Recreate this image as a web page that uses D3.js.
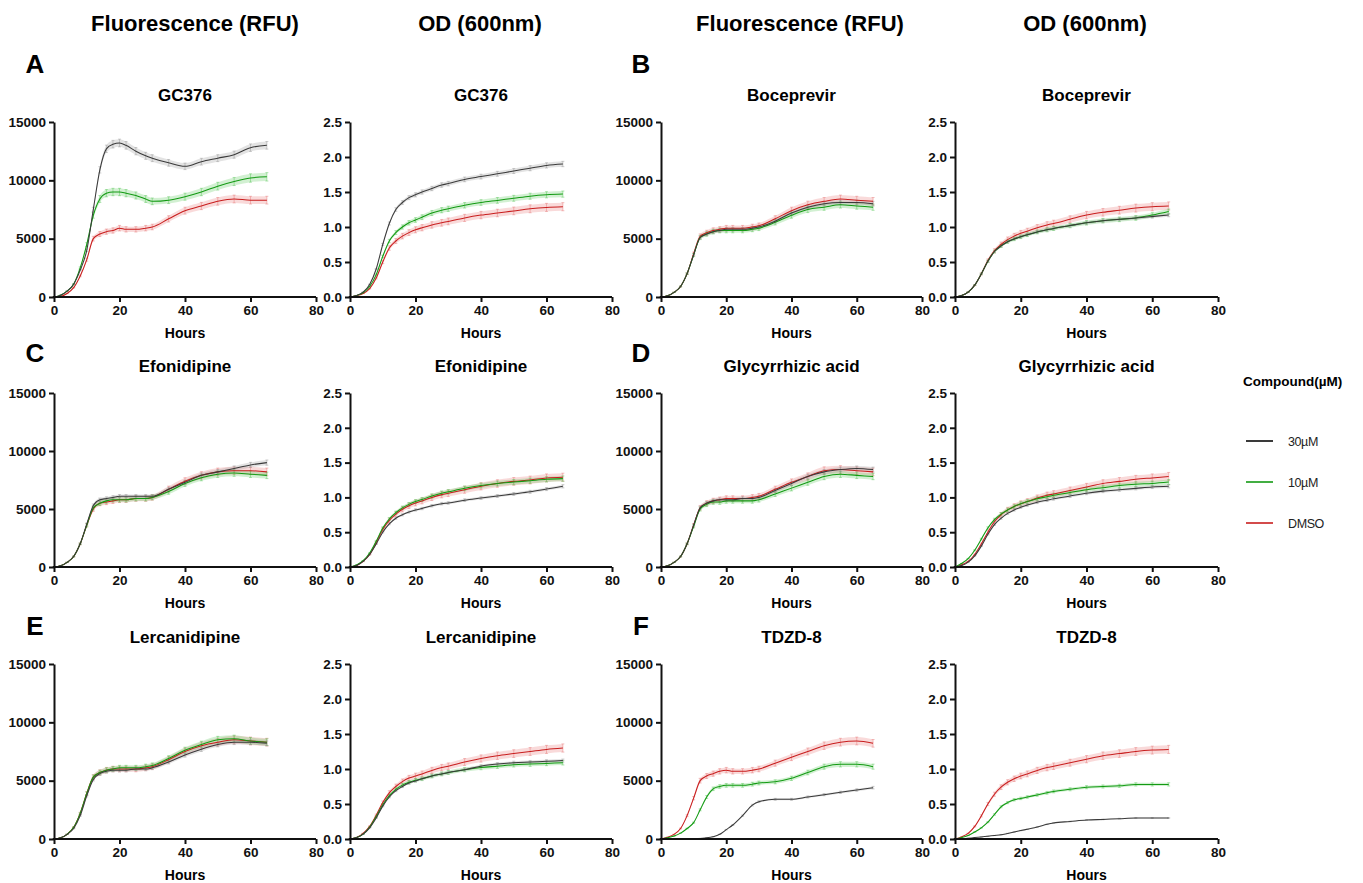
<!DOCTYPE html>
<html><head><meta charset="utf-8">
<script src="https://cdn.jsdelivr.net/npm/d3@7"></script>
<style>body{margin:0;background:#fff}svg{display:block}text{font-family:"Liberation Sans",Arial,Helvetica,sans-serif}</style>
</head><body><svg id="c" width="1363" height="883"></svg>
<script>
// ---------- data ----------
const hours = [0,2,4,6,8,10,12,14,16,18,20,22,25,28,30,35,40,45,50,55,60,65];
const seriesLabels = ["30µM","10µM","DMSO"];
const columnHeaders = ["Fluorescence (RFU)","OD (600nm)","Fluorescence (RFU)","OD (600nm)"];
const panelLetters = ["A","B","C","D","E","F"];
const compounds = ["GC376","Boceprevir","Efonidipine","Glycyrrhizic acid","Lercanidipine","TDZD-8"];
const fluorTicks = [0,5000,10000,15000];
const odTicks = [0,0.5,1.0,1.5,2.0,2.5];
const hourTicks = [0,20,40,60,80];
// relative spread of replicates (black, green, red)
const cvFluor = [0.025,0.035,0.04];
const cvOD = [0.02,0.03,0.045];

// A GC376
const gc376F30 = [0,150,500,1100,2300,4000,7500,10900,12700,13100,13200,13000,12500,12100,11900,11500,11200,11600,11900,12200,12800,13000];
const gc376F10 = [0,150,500,1100,2500,4500,7000,8400,8900,9000,9000,8900,8700,8400,8200,8300,8600,9000,9500,9900,10200,10300];
const gc376FD  = [0,50,300,800,1800,3200,5000,5400,5600,5700,5900,5800,5800,5900,6000,6700,7400,7800,8200,8400,8300,8300];
const gc376O30 = [0,0.02,0.07,0.18,0.4,0.75,1.05,1.25,1.35,1.42,1.46,1.5,1.55,1.6,1.62,1.68,1.72,1.76,1.8,1.84,1.88,1.9];
const gc376O10 = [0,0.02,0.06,0.15,0.32,0.58,0.8,0.92,1.0,1.06,1.1,1.14,1.2,1.24,1.26,1.31,1.35,1.38,1.41,1.44,1.46,1.47];
const gc376OD  = [0,0.02,0.05,0.12,0.27,0.5,0.7,0.8,0.87,0.92,0.96,0.99,1.03,1.06,1.08,1.13,1.17,1.2,1.23,1.26,1.28,1.29];
// B Boceprevir
const bocF30 = [0,100,400,900,2000,3600,5100,5400,5600,5700,5800,5800,5800,5900,6000,6500,7200,7700,8000,8100,8100,8000];
const bocF10 = [0,100,400,900,2000,3600,5100,5400,5600,5700,5700,5700,5700,5800,5900,6400,7000,7500,7700,7900,7800,7700];
const bocFD  = [0,100,400,900,2000,3700,5200,5500,5700,5800,5900,5900,5900,6000,6100,6700,7400,7900,8200,8400,8300,8200];
const bocO30 = [0,0.02,0.07,0.17,0.33,0.51,0.65,0.73,0.79,0.83,0.86,0.89,0.93,0.96,0.98,1.02,1.06,1.09,1.11,1.13,1.15,1.17];
const bocO10 = [0,0.02,0.07,0.17,0.33,0.51,0.65,0.73,0.79,0.83,0.86,0.89,0.93,0.96,0.98,1.02,1.06,1.09,1.11,1.13,1.17,1.22];
const bocOD  = [0,0.02,0.07,0.17,0.33,0.52,0.66,0.75,0.82,0.87,0.91,0.94,0.99,1.03,1.05,1.11,1.17,1.21,1.24,1.27,1.29,1.3];
// C Efonidipine
const efoF30 = [0,100,400,900,2000,3700,5300,5800,5900,6000,6100,6100,6100,6100,6100,6700,7300,7900,8200,8500,8800,9000];
const efoF10 = [0,100,400,900,2000,3600,5100,5500,5700,5800,5800,5800,5900,5900,6000,6500,7200,7700,8000,8100,8000,7900];
const efoFD  = [0,100,400,900,2000,3600,5000,5500,5600,5700,5800,5800,5900,5900,6000,6700,7400,7900,8200,8300,8300,8200];
const efoO30 = [0,0.02,0.08,0.18,0.33,0.5,0.62,0.7,0.75,0.79,0.82,0.84,0.88,0.91,0.92,0.96,0.99,1.02,1.05,1.08,1.12,1.16];
const efoO10 = [0,0.03,0.09,0.2,0.37,0.56,0.69,0.78,0.85,0.9,0.94,0.97,1.02,1.06,1.08,1.13,1.17,1.2,1.22,1.24,1.26,1.27];
const efoOD  = [0,0.02,0.08,0.18,0.35,0.54,0.67,0.76,0.83,0.88,0.92,0.95,1.0,1.04,1.06,1.11,1.16,1.2,1.23,1.25,1.28,1.29];
// D Glycyrrhizic acid
const glyF30 = [0,100,400,900,2000,3600,5100,5500,5700,5800,5800,5800,5900,5900,6000,6600,7200,7800,8200,8400,8500,8400];
const glyF10 = [0,100,400,900,2000,3500,5000,5400,5600,5600,5700,5700,5700,5700,5800,6300,6800,7300,7800,8000,7900,7800];
const glyFD  = [0,100,400,900,2000,3600,5100,5500,5700,5800,5900,5900,5900,6000,6100,6700,7300,7800,8300,8400,8300,8200];
const glyO30 = [0,0.02,0.07,0.16,0.3,0.47,0.61,0.7,0.77,0.82,0.86,0.89,0.93,0.96,0.98,1.02,1.06,1.09,1.11,1.13,1.15,1.16];
const glyO10 = [0,0.05,0.12,0.24,0.4,0.56,0.68,0.76,0.82,0.87,0.91,0.94,0.98,1.01,1.03,1.07,1.11,1.14,1.17,1.19,1.2,1.22];
const glyOD  = [0,0.03,0.08,0.18,0.33,0.5,0.65,0.75,0.82,0.87,0.91,0.94,0.99,1.03,1.05,1.1,1.15,1.2,1.23,1.26,1.28,1.3];
// E Lercanidipine
const lerF30 = [0,100,400,900,2000,3700,5100,5600,5800,5900,5900,5900,6000,6000,6100,6600,7200,7700,8100,8300,8300,8200];
const lerF10 = [0,100,400,1000,2200,3900,5300,5700,5900,6000,6100,6100,6100,6200,6300,6900,7600,8100,8500,8600,8400,8300];
const lerFD  = [0,100,400,1000,2200,3900,5300,5700,5900,6000,6000,6000,6000,6100,6200,6800,7500,8000,8300,8500,8400,8300];
const lerO30 = [0,0.02,0.07,0.16,0.3,0.47,0.6,0.69,0.75,0.8,0.83,0.86,0.9,0.93,0.95,0.99,1.04,1.07,1.09,1.1,1.11,1.12];
const lerO10 = [0,0.02,0.07,0.17,0.32,0.49,0.62,0.71,0.77,0.81,0.84,0.86,0.9,0.93,0.95,0.99,1.02,1.04,1.06,1.07,1.08,1.09];
const lerOD  = [0,0.02,0.08,0.18,0.34,0.52,0.66,0.75,0.82,0.87,0.9,0.93,0.98,1.02,1.04,1.1,1.15,1.19,1.22,1.25,1.28,1.3];
// F TDZD-8
const tdzF30 = [0,50,0,0,0,0,50,100,200,400,800,1200,2000,2900,3200,3400,3400,3600,3800,4000,4200,4400];
const tdzF10 = [0,100,250,500,900,1400,2500,3600,4300,4500,4600,4600,4600,4700,4800,4900,5200,5700,6200,6400,6400,6200];
const tdzFD  = [0,150,400,900,2000,3500,5000,5400,5600,5800,5900,5800,5800,5900,6000,6500,7000,7500,8000,8300,8400,8200];
const tdzO30 = [0,0,0.01,0.02,0.03,0.04,0.05,0.06,0.08,0.1,0.12,0.14,0.17,0.21,0.23,0.25,0.27,0.28,0.29,0.3,0.3,0.3];
const tdzO10 = [0,0.02,0.05,0.1,0.16,0.24,0.35,0.46,0.52,0.56,0.58,0.6,0.63,0.66,0.68,0.71,0.74,0.75,0.76,0.78,0.78,0.78];
const tdzOD  = [0,0.03,0.08,0.18,0.33,0.5,0.64,0.74,0.81,0.86,0.9,0.93,0.98,1.02,1.04,1.09,1.14,1.19,1.22,1.25,1.27,1.28];

const fluorSets = [[gc376F30,gc376F10,gc376FD],[bocF30,bocF10,bocFD],[efoF30,efoF10,efoFD],[glyF30,glyF10,glyFD],[lerF30,lerF10,lerFD],[tdzF30,tdzF10,tdzFD]];
const odSets = [[gc376O30,gc376O10,gc376OD],[bocO30,bocO10,bocOD],[efoO30,efoO10,efoOD],[glyO30,glyO10,glyOD],[lerO30,lerO10,lerOD],[tdzO30,tdzO10,tdzOD]];

// ---------- layout & style ----------
const lineColors = ["#3a3a3a","#139a13","#c81e1e"];
const bandColors = ["#9a9a9a","#5cc85c","#e87a7a"];
const colX = [[54,316],[350,612],[661,922],[955,1218]];
const rowY = [[122,297],[393,567],[664,839]];
const letterBase = [73,362,635];
const headerX = [195,480,800,1085];

const svg = d3.select("#c");
svg.selectAll("text.hdr").data(columnHeaders).join("text").attr("class","hdr")
  .attr("x",(d,i)=>headerX[i]).attr("y",31).attr("text-anchor","middle")
  .attr("font-size",22).attr("font-weight","bold").attr("fill","#000").text(d=>d);

function drawPanel(col,row,title,sets,isOD,cv){
  const [x0,x1]=colX[col],[yt,yb]=rowY[row];
  const x=d3.scaleLinear([0,80],[x0,x1]);
  const y=d3.scaleLinear(isOD?[0,2.5]:[0,15000],[yb,yt]);
  const g=svg.append("g");
  const order=[2,1,0];
  order.forEach(s=>{
    const vals=sets[s];
    const area=d3.area().x((d,i)=>x(hours[i])).y0(d=>y(d*(1-cv[s]))).y1(d=>y(d*(1+cv[s]))).curve(d3.curveMonotoneX);
    g.append("path").datum(vals).attr("d",area).attr("fill",bandColors[s]).attr("fill-opacity",0.28);
    g.append("g").selectAll("path").data(vals).join("path")
      .attr("d",(d,i)=>{const cx=x(hours[i]),a=y(d*(1+cv[s])),b=y(d*(1-cv[s]));return `M${cx},${a}V${b}M${cx-1.5},${a}H${cx+1.5}M${cx-1.5},${b}H${cx+1.5}`;})
      .attr("stroke",bandColors[s]).attr("stroke-opacity",0.6).attr("stroke-width",0.8).attr("fill","none");
  });
  order.forEach(s=>{
    const line=d3.line().x((d,i)=>x(hours[i])).y(d=>y(d)).curve(d3.curveMonotoneX);
    g.append("path").datum(sets[s]).attr("d",line).attr("fill","none").attr("stroke",lineColors[s]).attr("stroke-width",1.05);
  });
  const ax=g.append("g").attr("transform",`translate(0,${yb})`)
    .call(d3.axisBottom(x).tickValues(hourTicks).tickSize(5).tickSizeOuter(0).tickPadding(3));
  const ay=g.append("g").attr("transform",`translate(${x0},0)`)
    .call(d3.axisLeft(y).tickValues(isOD?odTicks:fluorTicks).tickSize(5).tickSizeOuter(0).tickPadding(3)
      .tickFormat(isOD?d3.format(".1f"):d3.format("d")));
  [ax,ay].forEach(a=>{
    a.select(".domain").attr("stroke","#111").attr("stroke-width",2);
    a.selectAll(".tick line").attr("stroke","#111").attr("stroke-width",2);
    a.selectAll(".tick text").attr("font-size",13.5).attr("font-weight","bold").attr("fill","#111")
      .attr("font-family","'Liberation Sans',Arial,sans-serif");
  });
  ax.select(".domain").attr("d",`M${x0-1},0H${x1}`);
  g.append("text").attr("x",(x0+x1)/2).attr("y",yb+41).attr("text-anchor","middle")
    .attr("font-size",14).attr("font-weight","bold").text("Hours");
  g.append("text").attr("x",(x0+x1)/2).attr("y",yt-21).attr("text-anchor","middle")
    .attr("font-size",17).attr("font-weight","bold").text(title);
}

compounds.forEach((c,k)=>{
  const row=Math.floor(k/2), pair=k%2;
  drawPanel(pair*2,row,c,fluorSets[k],false,cvFluor);
  drawPanel(pair*2+1,row,c,odSets[k],true,cvOD);
  svg.append("text").attr("x",pair?641:35).attr("y",letterBase[row]).attr("text-anchor","middle")
    .attr("font-size",26).attr("font-weight","bold").text(panelLetters[k]);
});

// legend
const lg=svg.append("g");
lg.append("text").attr("x",1243).attr("y",386).attr("font-size",13.5).attr("font-weight","bold").text("Compound(µM)");
seriesLabels.forEach((s,i)=>{
  const yy=441+i*41;
  lg.append("line").attr("x1",1246).attr("x2",1273).attr("y1",yy).attr("y2",yy)
    .attr("stroke",lineColors[i]).attr("stroke-width",i===0?2:1.6);
  lg.append("text").attr("x",1288).attr("y",yy+4.5).attr("font-size",12.5).attr("letter-spacing",-0.4).attr("fill","#222").text(s);
});
</script></body></html>
